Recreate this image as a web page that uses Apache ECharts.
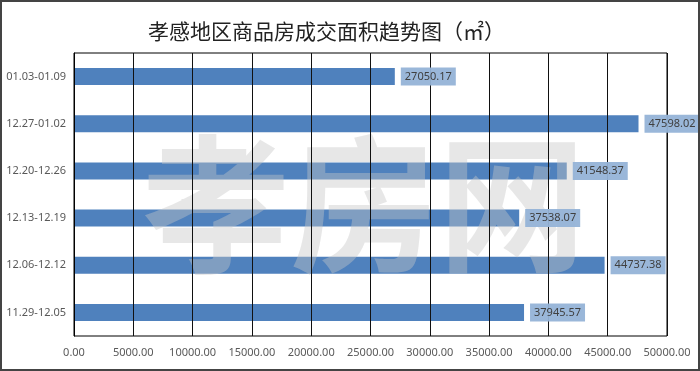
<!DOCTYPE html>
<html><head><meta charset="utf-8">
<script src="https://cdn.jsdelivr.net/npm/echarts@6/dist/echarts.min.js"></script>
<style>html,body{margin:0;padding:0;background:#fff}#c{width:700px;height:371px}</style>
</head><body><div id="c"></div>
<script>
var categories = ['11.29-12.05','12.06-12.12','12.13-12.19','12.20-12.26','12.27-01.02','01.03-01.09'];
var values = [37945.57, 44737.38, 37538.07, 41548.37, 47598.02, 27050.17];
var titleText = '孝感地区商品房成交面积趋势图（㎡）';
var watermark = '孝房网';

var chart = echarts.init(document.getElementById('c'));
chart.setOption({
  animation:false,
  title:{text:titleText,left:143,top:16,textStyle:{fontFamily:'Noto Sans CJK SC',fontSize:21,fontWeight:'normal',color:'#222'}},
  grid:{left:74,right:33,top:53,bottom:35,show:true,borderColor:'#000',borderWidth:1,z:60},
  xAxis:{type:'value',min:0,max:50000,interval:5000,z:60,
    axisLine:{show:false},axisTick:{show:false},
    splitLine:{lineStyle:{color:'#111',width:1}},
    axisLabel:{formatter:function(v){return v.toFixed(2);},color:'#595959',fontSize:11,fontFamily:'Noto Sans',margin:11}},
  yAxis:{type:'category',data:categories,z:60,
    axisLine:{lineStyle:{color:'#000'}},axisTick:{show:false},
    axisLabel:{color:'#595959',fontSize:11,fontFamily:'Noto Sans',margin:8}},
  series:[
    {type:'bar',data:values,barWidth:17,z:2,itemStyle:{color:'#4F81BD'}},
    {type:'bar',data:values,barWidth:17,barGap:'-100%',z:70,itemStyle:{color:'rgba(0,0,0,0)'},silent:true,
    label:{show:true,position:'right',distance:6,formatter:function(p){return p.value.toFixed(2);},
      backgroundColor:'rgba(149,179,215,0.95)',padding:[4,4,3,4],color:'#404040',fontSize:11,fontFamily:'Noto Sans'}}],
  graphic:[
    {type:'text',left:142,top:130,z:40,silent:true,style:{text:watermark,font:'bold 148px "Noto Sans CJK SC"',fill:'rgba(197,197,197,0.42)'}},
    {type:'rect',shape:{x:1,y:1,width:698,height:369},style:{fill:'none',stroke:'#444',lineWidth:2},z:100}
  ]
});
</script></body></html>
